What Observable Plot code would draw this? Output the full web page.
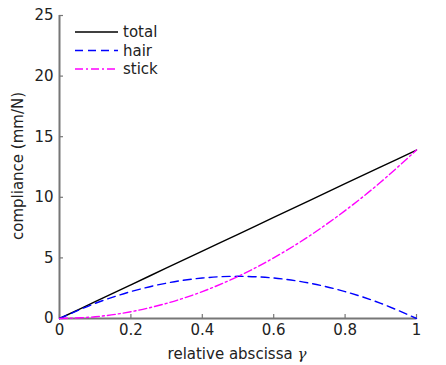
<!DOCTYPE html>
<html>
<head>
<meta charset="utf-8">
<script src="https://cdn.jsdelivr.net/npm/d3@7"></script>
<script src="https://cdn.jsdelivr.net/npm/@observablehq/plot@0.6"></script>
<style>
  body { margin: 0; background: #fff; font-family: "DejaVu Sans", sans-serif; }
  #wrap { position: relative; width: 446px; height: 365px; }
</style>
</head>
<body>
<div id="wrap"></div>
<script>
const gamma = [0, 0.1, 0.2, 0.3, 0.4, 0.5, 0.6, 0.7, 0.8, 0.9, 1.0];
const total = [0, 1.39, 2.78, 4.17, 5.56, 6.95, 8.34, 9.73, 11.12, 12.51, 13.9];
const hair  = [0, 1.25, 2.22, 2.92, 3.34, 3.48, 3.34, 2.92, 2.22, 1.25, 0];
const stick = [0, 0.14, 0.56, 1.25, 2.22, 3.47, 5.0, 6.81, 8.9, 11.26, 13.9];
const xTicks = [0, 0.2, 0.4, 0.6, 0.8, 1];
const xTickLabels = ["0", "0.2", "0.4", "0.6", "0.8", "1"];
const yTicks = [0, 5, 10, 15, 20, 25];
const seriesNames = ["total", "hair", "stick"];
const seriesColors = ["#000000", "#0000ff", "#ff00ff"];
const seriesDash = [null, "8,5", "8,3,2,3"];

const seriesValues = [total, hair, stick];
const rows = seriesNames.flatMap((name, i) =>
  gamma.map((g, j) => ({series: name, x: g, y: seriesValues[i][j]})));

const axisColor = "#777";
const chart = Plot.plot({
  width: 446,
  height: 365,
  marginLeft: 59,
  marginRight: 30,
  marginTop: 15,
  marginBottom: 47,
  style: {fontFamily: "DejaVu Sans, sans-serif", fontSize: "15px", color: "#222", background: "#fff"},
  x: {domain: [0, 1], ticks: xTicks},
  y: {domain: [0, 25], ticks: yTicks},
  marks: [
    Plot.ruleY([0], {stroke: axisColor, strokeWidth: 2}),
    Plot.ruleX([0], {stroke: axisColor, strokeWidth: 2}),
    Plot.axisX(xTicks, {tickSize: -4, stroke: axisColor, strokeWidth: 1.2, tickPadding: 10, fontSize: 15, fill: "#222",
      tickFormat: (d) => xTickLabels[xTicks.indexOf(d)], label: null}),
    Plot.axisY(yTicks, {tickSize: -4, stroke: axisColor, strokeWidth: 1.2, tickPadding: 10, fontSize: 15, fill: "#222", label: null}),
    ...seriesNames.map((name, i) =>
      Plot.line(rows.filter(r => r.series === name), {
        x: "x", y: "y", stroke: seriesColors[i], strokeWidth: 1.4,
        strokeDasharray: seriesDash[i] || undefined, curve: "catmull-rom"
      }))
  ]
});

const wrap = document.getElementById("wrap");
wrap.appendChild(chart);

// axis labels
const svg = d3.select(chart);
svg.append("text")
  .attr("x", 237).attr("y", 359)
  .attr("text-anchor", "middle")
  .attr("font-size", 15).attr("fill", "#222")
  .text("relative abscissa ")
  .append("tspan").attr("font-style", "italic").attr("font-family", "DejaVu Serif, serif").text("γ");
svg.append("text")
  .attr("transform", "translate(23,166) rotate(-90)")
  .attr("text-anchor", "middle")
  .attr("font-size", 15).attr("fill", "#222")
  .text("compliance (mm/N)");

// legend
const leg = svg.append("g").attr("transform", "translate(75,32)");
seriesNames.forEach((name, i) => {
  const g = leg.append("g").attr("transform", `translate(0,${i * 18.5})`);
  g.append("line").attr("x1", 0).attr("x2", 43).attr("y1", 0).attr("y2", 0)
    .attr("stroke", seriesColors[i]).attr("stroke-width", 1.4)
    .attr("stroke-dasharray", seriesDash[i]);
  g.append("text").attr("x", 48).attr("y", 5)
    .attr("text-anchor", "start")
    .attr("font-size", 15).attr("fill", "#222").text(name);
});
</script>
</body>
</html>
